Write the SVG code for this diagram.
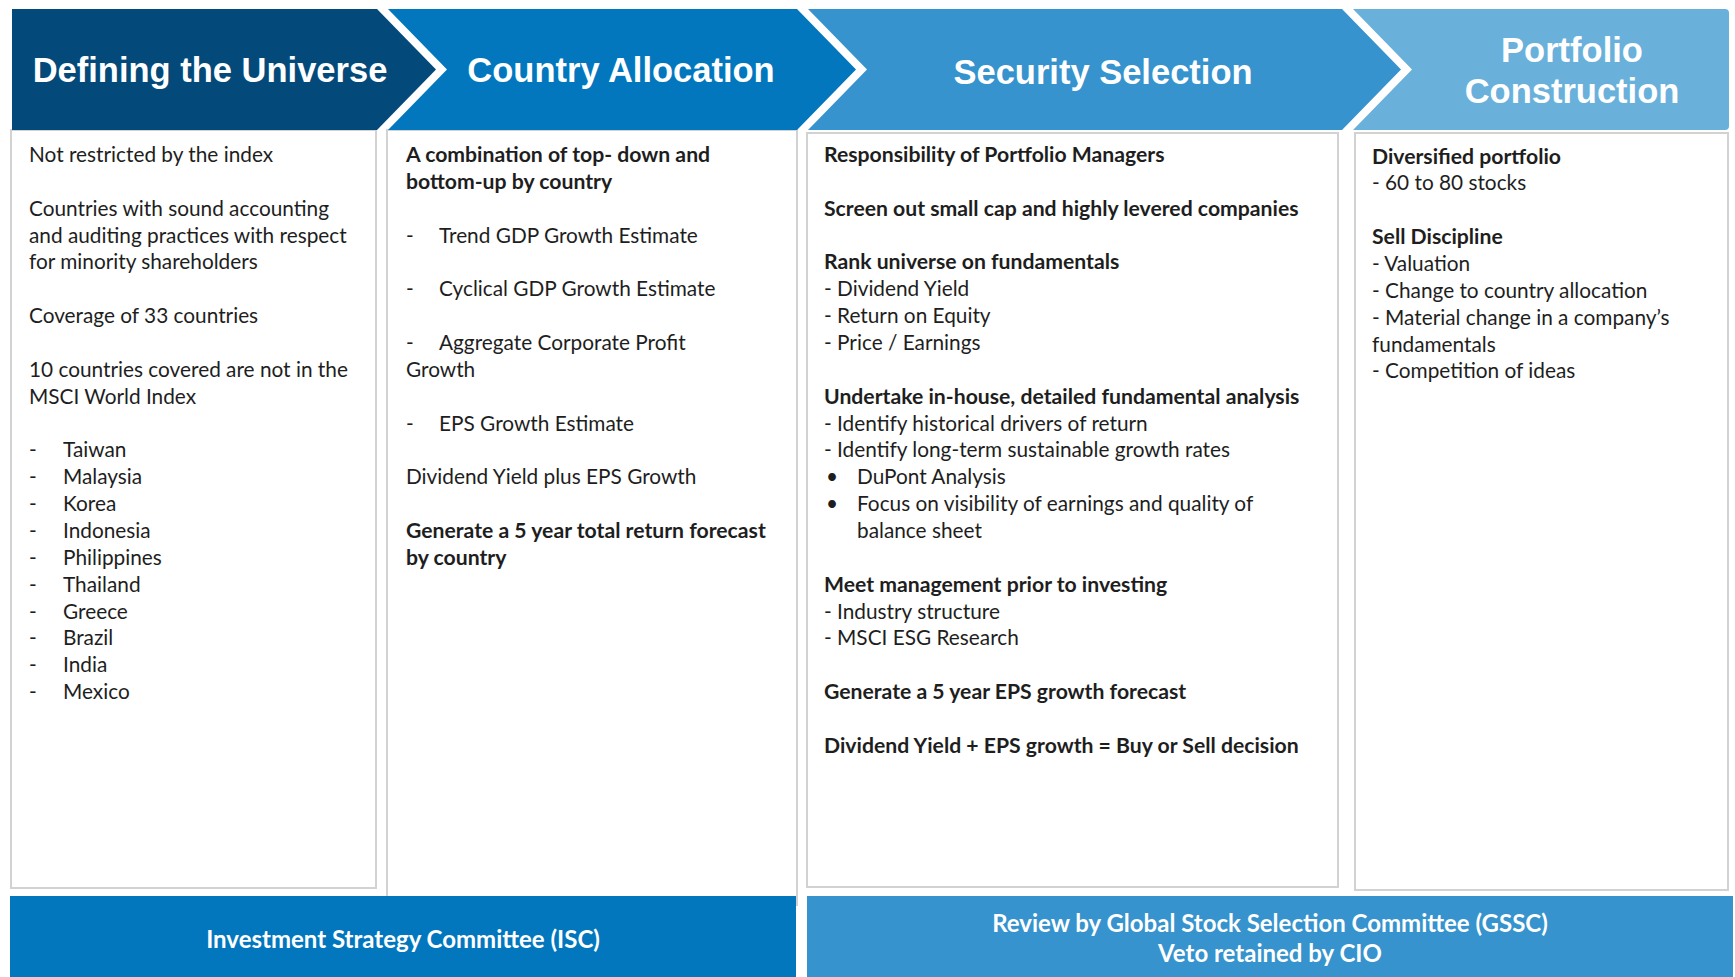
<svg xmlns="http://www.w3.org/2000/svg" width="1735" height="977" viewBox="0 0 1735 977">
<style>
.box{fill:#ffffff;stroke:#d2d2d2;stroke-width:2}
.hd{font-family:"Liberation Sans",Arial,sans-serif;font-weight:bold;fill:#ffffff;text-anchor:middle}
.t{font-family:Lato,"Open Sans",sans-serif;font-size:20.8px;fill:#1e1e1e}
.b{font-weight:bold;font-size:21.2px}
.bar{font-family:Lato,"Open Sans",sans-serif;font-size:24px;font-weight:bold;fill:#ffffff;text-anchor:middle}
</style>
<rect width="1735" height="977" fill="#ffffff"/>
<g id="col-universe">
<rect class="box" x="11" y="130" width="365" height="758"/>
<polygon points="12,9 377,9 436,69.5 377,130 12,130" fill="#034a7b"/>
<text class="hd" x="210" y="82" font-size="34.5">Defining the Universe</text>
<text class="t">
<tspan x="29" y="162">Not restricted by the index</tspan>
<tspan x="29" y="215.7">Countries with sound accounting</tspan>
<tspan x="29" y="242.6">and auditing practices with respect</tspan>
<tspan x="29" y="269.4">for minority shareholders</tspan>
<tspan x="29" y="323.1">Coverage of 33 countries</tspan>
<tspan x="29" y="376.8">10 countries covered are not in the</tspan>
<tspan x="29" y="403.7">MSCI World Index</tspan>
</text>
<text class="t">
<tspan x="29" y="457.4">-</tspan><tspan x="63" y="457.4">Taiwan</tspan>
<tspan x="29" y="484.2">-</tspan><tspan x="63" y="484.2">Malaysia</tspan>
<tspan x="29" y="511">-</tspan><tspan x="63" y="511">Korea</tspan>
<tspan x="29" y="537.9">-</tspan><tspan x="63" y="537.9">Indonesia</tspan>
<tspan x="29" y="564.8">-</tspan><tspan x="63" y="564.8">Philippines</tspan>
<tspan x="29" y="591.6">-</tspan><tspan x="63" y="591.6">Thailand</tspan>
<tspan x="29" y="618.5">-</tspan><tspan x="63" y="618.5">Greece</tspan>
<tspan x="29" y="645.3">-</tspan><tspan x="63" y="645.3">Brazil</tspan>
<tspan x="29" y="672.2">-</tspan><tspan x="63" y="672.2">India</tspan>
<tspan x="29" y="699">-</tspan><tspan x="63" y="699">Mexico</tspan>
</text>
</g>
<g id="col-country">
<rect class="box" x="387" y="130" width="410" height="775"/>
<polygon points="388,9 797,9 856,69.5 797,130 388,130 447,69.5" fill="#0277be"/>
<text class="hd" x="621" y="82" font-size="34.5">Country Allocation</text>
<text class="t">
<tspan class="b" x="406" y="162">A combination of top- down and</tspan>
<tspan class="b" x="406" y="188.9">bottom-up by country</tspan>
<tspan x="406" y="242.6">-</tspan><tspan x="439" y="242.6">Trend GDP Growth Estimate</tspan>
<tspan x="406" y="296.3">-</tspan><tspan x="439" y="296.3">Cyclical GDP Growth Estimate</tspan>
<tspan x="406" y="350">-</tspan><tspan x="439" y="350">Aggregate Corporate Profit</tspan>
<tspan x="406" y="376.8">Growth</tspan>
<tspan x="406" y="430.5">-</tspan><tspan x="439" y="430.5">EPS Growth Estimate</tspan>
<tspan x="406" y="484.2">Dividend Yield plus EPS Growth</tspan>
<tspan class="b" x="406" y="537.9">Generate a 5 year total return forecast</tspan>
<tspan class="b" x="406" y="564.8">by country</tspan>
</text>
</g>
<g id="col-security">
<rect class="box" x="807" y="133" width="531" height="754"/>
<polygon points="808,9 1342,9 1401,69.5 1342,130 808,130 867,69.5" fill="#3693cd"/>
<text class="hd" x="1103" y="84" font-size="34.5">Security Selection</text>
<text class="t">
<tspan class="b" x="824" y="162">Responsibility of Portfolio Managers</tspan>
<tspan class="b" x="824" y="215.7">Screen out small cap and highly levered companies</tspan>
<tspan class="b" x="824" y="269.4">Rank universe on fundamentals</tspan>
<tspan x="824" y="296.3">- Dividend Yield</tspan>
<tspan x="824" y="323.1">- Return on Equity</tspan>
<tspan x="824" y="350">- Price / Earnings</tspan>
<tspan class="b" x="824" y="403.7">Undertake in-house, detailed fundamental analysis</tspan>
<tspan x="824" y="430.5">- Identify historical drivers of return</tspan>
<tspan x="824" y="457.4">- Identify long-term sustainable growth rates</tspan>
<tspan x="826" y="484.2">•</tspan><tspan x="857" y="484.2">DuPont Analysis</tspan>
<tspan x="826" y="511">•</tspan><tspan x="857" y="511">Focus on visibility of earnings and quality of</tspan>
<tspan x="857" y="537.9">balance sheet</tspan>
<tspan class="b" x="824" y="591.6">Meet management prior to investing</tspan>
<tspan x="824" y="618.5">- Industry structure</tspan>
<tspan x="824" y="645.3">- MSCI ESG Research</tspan>
<tspan class="b" x="824" y="699">Generate a 5 year EPS growth forecast</tspan>
<tspan class="b" x="824" y="752.7">Dividend Yield + EPS growth = Buy or Sell decision</tspan>
</text>
</g>
<g id="col-portfolio">
<rect class="box" x="1355" y="133" width="373" height="757"/>
<path d="M1353,9 H1725 Q1729,9 1729,13 V126 Q1729,130 1725,130 H1353 L1412,69.5 Z" fill="#69b1db"/>
<text class="hd" x="1572" y="62" font-size="34.5">Portfolio</text>
<text class="hd" x="1572" y="103" font-size="34.5">Construction</text>
<text class="t">
<tspan class="b" x="1372" y="163.5">Diversified portfolio</tspan>
<tspan x="1372" y="190.4">- 60 to 80 stocks</tspan>
<tspan class="b" x="1372" y="244.1">Sell Discipline</tspan>
<tspan x="1372" y="270.9">- Valuation</tspan>
<tspan x="1372" y="297.8">- Change to country allocation</tspan>
<tspan x="1372" y="324.6">- Material change in a company’s</tspan>
<tspan x="1372" y="351.5">fundamentals</tspan>
<tspan x="1372" y="378.3">- Competition of ideas</tspan>
</text>
</g>
<g id="bar-isc">
<rect x="10" y="896" width="786" height="81" fill="#0277be"/>
<text class="bar" x="403" y="948">Investment Strategy Committee (ISC)</text>
</g>
<g id="bar-gssc">
<rect x="807" y="896" width="926" height="81" fill="#3693cd"/>
<text class="bar" x="1270" y="932">Review by Global Stock Selection Committee (GSSC)</text>
<text class="bar" x="1270" y="962">Veto retained by CIO</text>
</g>
<g id="connectors"></g>
</svg>
